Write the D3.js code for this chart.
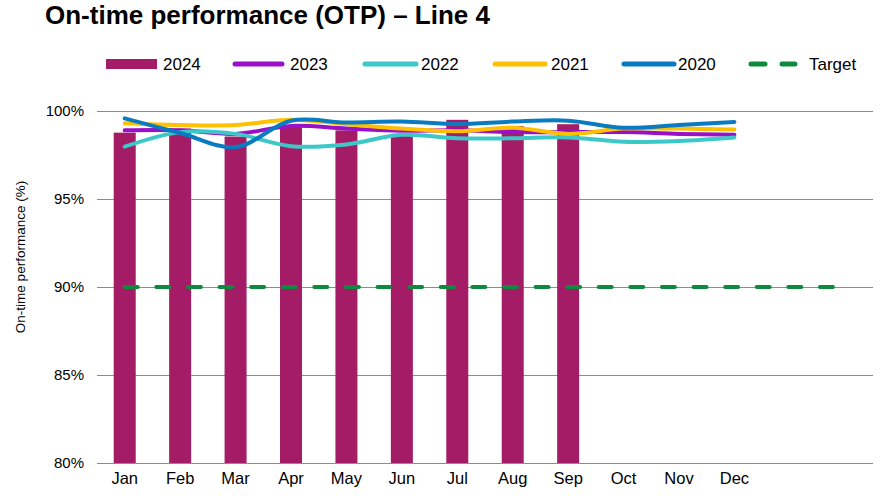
<!DOCTYPE html>
<html>
<head>
<meta charset="utf-8">
<script src="https://cdn.jsdelivr.net/npm/d3@7"></script>
<style>
  body { margin: 0; background: #fff; }
  svg { font-family: "Liberation Sans", Arial, sans-serif; }
</style>
</head>
<body>
<svg width="882" height="499"></svg>
<script>
// chart data
var months = ["Jan", "Feb", "Mar", "Apr", "May", "Jun", "Jul", "Aug", "Sep", "Oct", "Nov", "Dec"];
var yTicks = [80, 85, 90, 95, 100];
var otp2024 = [98.77, 99.0, 98.55, 99.1, 98.9, 98.7, 99.5, 99.15, 99.25];
var otp2023 = [98.9, 98.9, 98.7, 99.15, 99.0, 98.88, 98.9, 98.8, 98.8, 98.8, 98.7, 98.65];
var otp2022 = [97.97, 98.8, 98.7, 98.0, 98.1, 98.65, 98.45, 98.45, 98.5, 98.25, 98.3, 98.5];
var otp2021 = [99.3, 99.2, 99.2, 99.5, 99.25, 99.0, 98.85, 99.05, 98.7, 99.0, 99.0, 98.95];
var otp2020 = [99.58, 98.75, 97.95, 99.45, 99.35, 99.4, 99.25, 99.4, 99.45, 99.05, 99.2, 99.38];
var target = [90, 90, 90, 90, 90, 90, 90, 90, 90, 90, 90, 90, 90, 90];

var colors = {
    b2024: "#A51C66",
    l2023: "#9A0FC8",
    l2022: "#3CC8C8",
    l2021: "#FFC000",
    l2020: "#0A7BC1",
    target: "#0E8A3E"
};

function drawChart() {
    var svg = d3.select("svg");
    var plotLeft = 97, plotRight = 873, plotTop = 111, plotBottom = 463;

    // 14 slots: 12 months plus two empty ones on the right
    var x = d3.scaleBand()
        .domain(d3.range(14))
        .range([plotLeft, plotRight])
        .paddingInner(0);

    var y = d3.scaleLinear()
        .domain([80, 100])
        .range([plotBottom, plotTop]);

    var cx = function(i) { return x(i) + x.bandwidth() / 2; };

    // title
    svg.append("text")
        .attr("x", 45)
        .attr("y", 24)
        .attr("font-size", 26)
        .attr("font-weight", "bold")
        .attr("fill", "#000")
        .text("On-time performance (OTP) \u2013 Line 4");

    // gridlines
    svg.append("g")
        .selectAll("line")
        .data(yTicks)
        .enter().append("line")
        .attr("x1", plotLeft)
        .attr("x2", plotRight)
        .attr("y1", function(d) { return y(d) + 0.5; })
        .attr("y2", function(d) { return y(d) + 0.5; })
        .attr("stroke", "#8c8c8c")
        .attr("stroke-width", 1);

    // y axis labels
    var yAxis = svg.append("g")
        .attr("transform", "translate(" + plotLeft + ",0)")
        .call(d3.axisLeft(y).tickValues(yTicks).tickSize(0).tickPadding(13)
            .tickFormat(function(d) { return d + "%"; }));
    yAxis.select(".domain").remove();
    yAxis.selectAll("text")
        .attr("font-size", 15)
        .attr("font-family", "Liberation Sans, Arial, sans-serif")
        .attr("fill", "#000");

    // x axis labels
    var xAxis = svg.append("g")
        .attr("transform", "translate(0," + plotBottom + ")")
        .call(d3.axisBottom(x).tickValues(d3.range(12)).tickSize(0).tickPadding(9)
            .tickFormat(function(i) { return months[i]; }));
    xAxis.select(".domain").remove();
    xAxis.selectAll("text")
        .attr("font-size", 16.5)
        .attr("font-family", "Liberation Sans, Arial, sans-serif")
        .attr("fill", "#000");

    // y axis title
    svg.append("text")
        .attr("transform", "translate(25,257) rotate(-90)")
        .attr("text-anchor", "middle")
        .attr("font-size", 13.5)
        .attr("fill", "#000")
        .text("On-time performance (%)");

    // 2024 bars
    var barW = 22;
    svg.append("g")
        .selectAll("rect")
        .data(otp2024)
        .enter().append("rect")
        .attr("x", function(d, i) { return cx(i) - barW / 2; })
        .attr("y", function(d) { return y(d); })
        .attr("width", barW)
        .attr("height", function(d) { return plotBottom - y(d); })
        .attr("fill", colors.b2024);

    // target line
    var line = d3.line()
        .x(function(d, i) { return cx(i); })
        .y(function(d) { return y(d); });

    svg.append("path")
        .datum(target)
        .attr("d", line)
        .attr("fill", "none")
        .attr("stroke", colors.target)
        .attr("stroke-width", 4)
        .attr("stroke-linecap", "round")
        .attr("stroke-dasharray", "13,18.6");

    // smoothed year lines
    var smooth = d3.line()
        .x(function(d, i) { return cx(i); })
        .y(function(d) { return y(d); })
        .curve(d3.curveCatmullRom.alpha(0.5));

    var series = [
        { data: otp2023, color: colors.l2023 },
        { data: otp2022, color: colors.l2022 },
        { data: otp2021, color: colors.l2021 },
        { data: otp2020, color: colors.l2020 }
    ];

    svg.append("g")
        .selectAll("path")
        .data(series)
        .enter().append("path")
        .attr("d", function(d) { return smooth(d.data); })
        .attr("fill", "none")
        .attr("stroke", function(d) { return d.color; })
        .attr("stroke-width", 4)
        .attr("stroke-linecap", "round");

    // legend
    var legendY = 64;
    var legend = svg.append("g").attr("font-size", 17).attr("fill", "#000");

    legend.append("rect")
        .attr("x", 106).attr("y", legendY - 5)
        .attr("width", 51).attr("height", 10)
        .attr("fill", colors.b2024);

    var legendLines = [
        { x1: 235, x2: 282, color: colors.l2023 },
        { x1: 365, x2: 416, color: colors.l2022 },
        { x1: 495, x2: 545, color: colors.l2021 },
        { x1: 624, x2: 674, color: colors.l2020 }
    ];

    legend.selectAll("line.key")
        .data(legendLines)
        .enter().append("line")
        .attr("class", "key")
        .attr("x1", function(d) { return d.x1; })
        .attr("x2", function(d) { return d.x2; })
        .attr("y1", legendY).attr("y2", legendY)
        .attr("stroke", function(d) { return d.color; })
        .attr("stroke-width", 5)
        .attr("stroke-linecap", "round");

    legend.append("line")
        .attr("x1", 751).attr("x2", 795)
        .attr("y1", legendY).attr("y2", legendY)
        .attr("stroke", colors.target)
        .attr("stroke-width", 5)
        .attr("stroke-linecap", "round")
        .attr("stroke-dasharray", "14,17");

    var legendText = [
        { x: 163, label: "2024" },
        { x: 290, label: "2023" },
        { x: 421, label: "2022" },
        { x: 551, label: "2021" },
        { x: 678, label: "2020" },
        { x: 809, label: "Target" }
    ];

    legend.selectAll("text")
        .data(legendText)
        .enter().append("text")
        .attr("x", function(d) { return d.x; })
        .attr("y", legendY)
        .attr("dy", "0.35em")
        .text(function(d) { return d.label; });
}

drawChart();
</script>
</body>
</html>
